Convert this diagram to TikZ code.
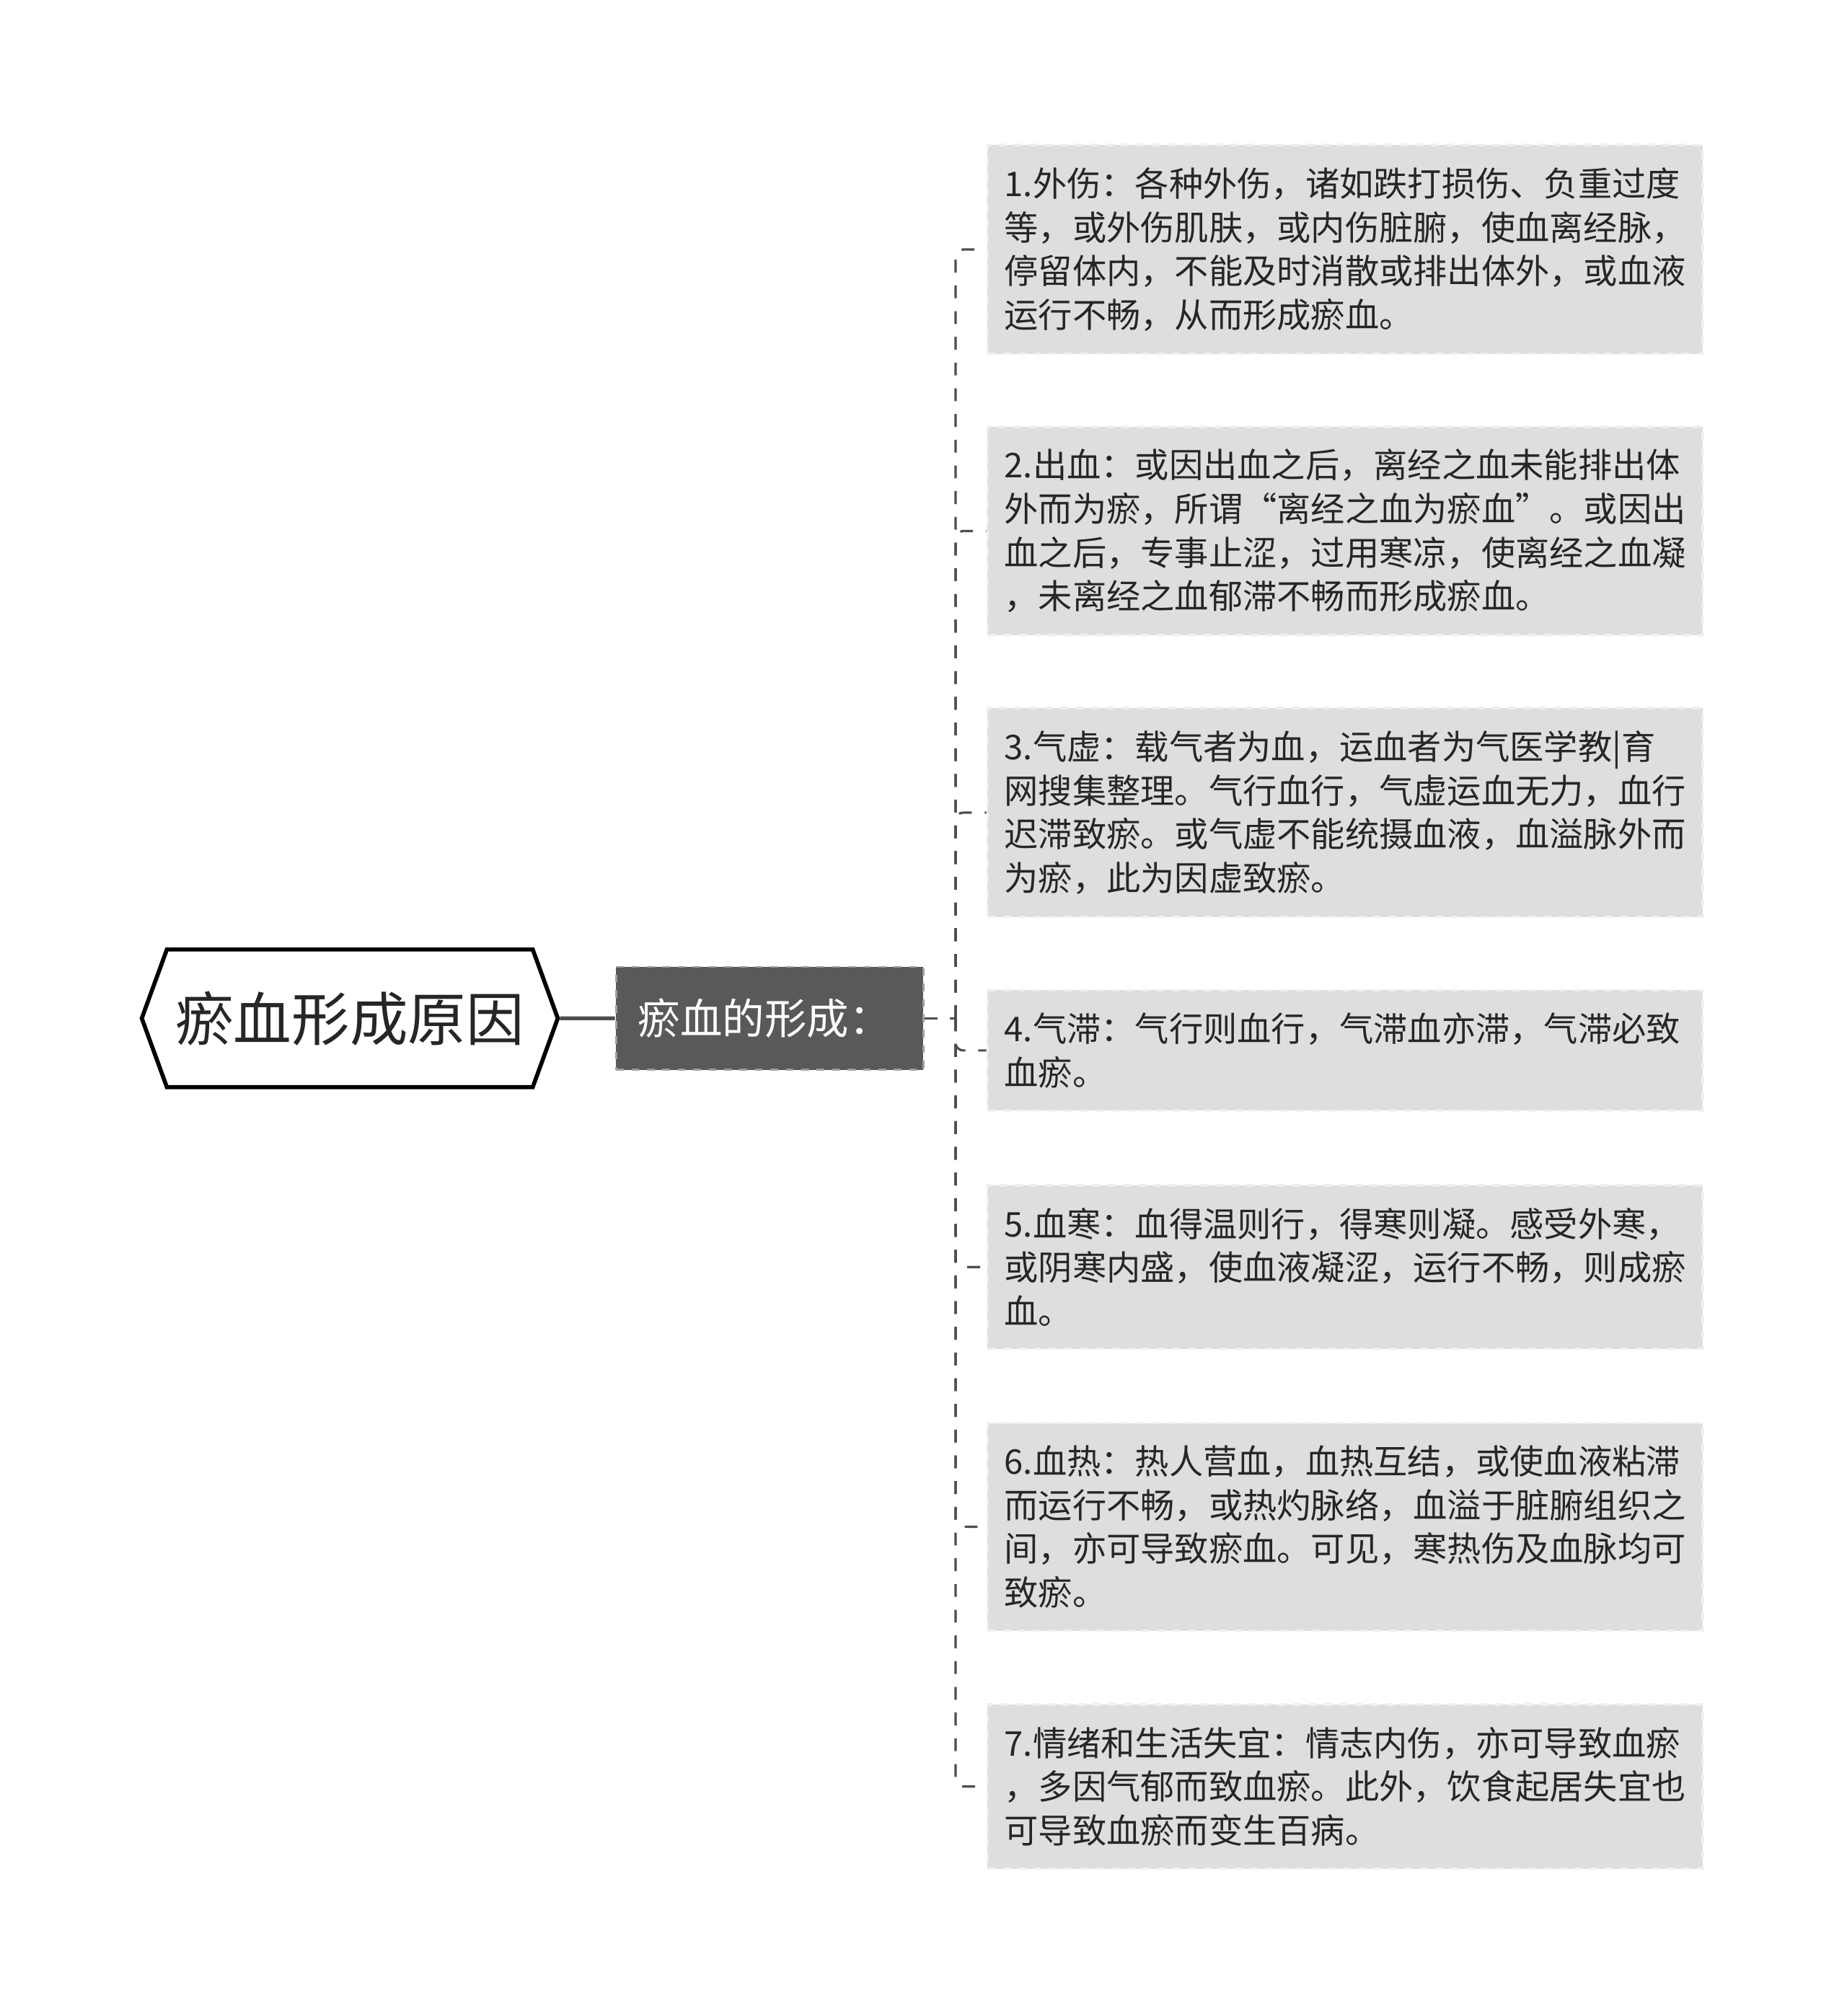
\documentclass[tikz,border=0pt]{standalone}
\usepackage{fontspec}
\setmainfont{Noto Sans CJK SC}
\usetikzlibrary{shapes.symbols}
\definecolor{textgray}{HTML}{262626}
\definecolor{midgray}{HTML}{595959}
\definecolor{leafgray}{HTML}{DEDEDE}
\definecolor{linegray}{HTML}{4D4D4D}
\begin{document}
\begin{tikzpicture}[x=0.5pt,y=-0.5pt,
  rootbox/.style={signal, signal to=west and east, signal pointer angle=140,
    draw=black, line width=1.6pt, fill=white, text=textgray,
    font=\fontsize{22.6pt}{26pt}\selectfont, minimum width=160pt, minimum height=53.5pt},
  midbox/.style={rectangle, fill=midgray, draw=gray!75, dashed, line width=0.8pt,
    text=white, font=\fontsize{16.4pt}{20pt}\selectfont,
    minimum width=119.5pt, minimum height=40pt},
  leafbox/.style={rectangle, anchor=west, fill=leafgray, draw=white!88!gray, dashed,
    line width=1pt, text=textgray, font=\fontsize{13.25pt}{17pt}\selectfont,
    align=left, text width=265pt, inner xsep=6.5pt, inner ysep=8.75pt},
  rootline/.style={linegray, line width=1.5pt},
  branch/.style={linegray, line width=0.9pt, dash pattern=on 5pt off 5pt, rounded corners=3pt}]
\useasboundingbox (0,0) rectangle (1436,1568);
% root and first level
\node (root) at (272,792) [rootbox] {瘀血形成原因};
\node (mid) at (598.5,792) [midbox] {\hspace*{-4pt}瘀血的形成：};
\draw[rootline] (root) -- (mid);
\coordinate (fork) at (743,792);
% leaves
\node (l1) at (767,194) [leafbox] {1.外伤：各种外伤，诸如跌打损伤、负重过度\\等，或外伤肌肤，或内伤脏腑，使血离经脉，\\停留体内，不能及时消散或排出体外，或血液\\运行不畅，从而形成瘀血。};
\node (l2) at (767,413) [leafbox] {2.出血：或因出血之后，离经之血未能排出体\\外而为瘀，所谓“离经之血为瘀血”。或因出\\血之后，专事止涩，过用寒凉，使离经之血凝\\，未离经之血郁滞不畅而形成瘀血。};
\node (l3) at (767,632) [leafbox] {3.气虚：载气者为血，运血者为气医学教|育\\网搜集整理。气行血行，气虚运血无力，血行\\迟滞致瘀。或气虚不能统摄血液，血溢脉外而\\为瘀，此为因虚致瘀。};
\node (l4) at (767,817) [leafbox] {4.气滞：气行则血行，气滞血亦滞，气滞必致\\血瘀。};
\node (l5) at (767,985.5) [leafbox] {5.血寒：血得温则行，得寒则凝。感受外寒，\\或阴寒内盛，使血液凝涩，运行不畅，则成瘀\\血。};
\node (l6) at (767,1187.5) [leafbox] {6.血热：热人营血，血热互结，或使血液粘滞\\而运行不畅，或热灼脉络，血溢于脏腑组织之\\间，亦可导致瘀血。可见，寒热伤及血脉均可\\致瘀。};
\node (l7) at (767,1389.5) [leafbox] {7.情绪和生活失宜：情志内伤，亦可导致血瘀\\，多因气郁而致血瘀。此外，饮食起居失宜也\\可导致血瘀而变生百病。};
% connectors
\draw[branch] (mid.east) -- (fork);
\foreach \k in {1,...,7}
  \draw[branch] (fork) |- (l\k.west);
\end{tikzpicture}
\end{document}
